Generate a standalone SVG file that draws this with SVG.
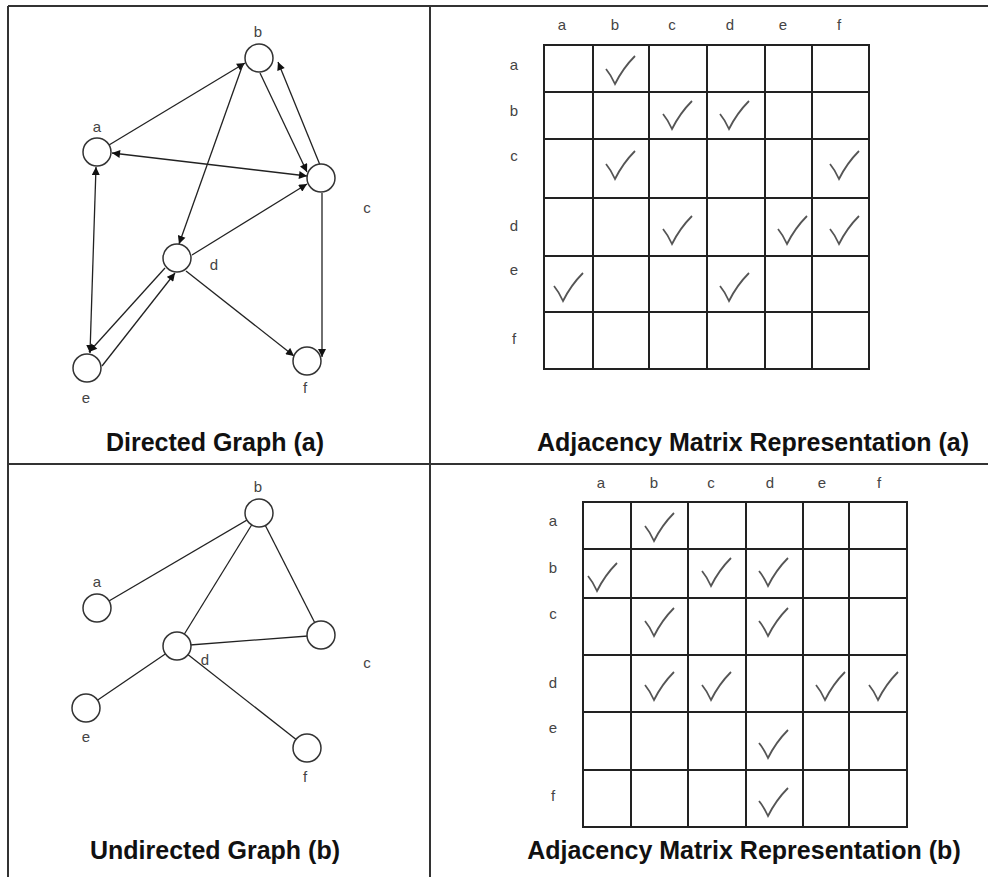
<svg xmlns="http://www.w3.org/2000/svg" xmlns:xlink="http://www.w3.org/1999/xlink" width="988" height="877" viewBox="0 0 988 877">
<style>
.frame{stroke:#333;stroke-width:2;fill:none}
.node{fill:#fff;stroke:#333;stroke-width:1.5}
.edge{stroke:#222;stroke-width:1.3;fill:none}
.lbl{font-family:"Liberation Sans",Arial,sans-serif;font-size:15px;fill:#444;text-anchor:middle}
.title{font-family:"Liberation Sans",Arial,sans-serif;font-size:25px;font-weight:bold;fill:#111;text-anchor:middle}
.grid{stroke:#222;stroke-width:2;fill:none}
.chk{stroke:#555;stroke-width:1.8;fill:none;stroke-linejoin:miter}
</style>
<defs>
<marker id="arr" viewBox="0 0 10 10" refX="10" refY="5" markerWidth="9" markerHeight="8" markerUnits="userSpaceOnUse" orient="auto-start-reverse">
<path d="M0,0 L10,5 L0,10 z" fill="#111"/>
</marker>
<path id="chk" d="M0,13 Q5,19 9,28 Q17,12 29,0"/>
</defs>
<rect width="988" height="877" fill="#fff"/>
<g id="frame">
<line class="frame" x1="8" y1="6" x2="988" y2="6"/>
<line class="frame" x1="8" y1="6" x2="8" y2="877"/>
<line class="frame" x1="430" y1="6" x2="430" y2="877"/>
<line class="frame" x1="8" y1="464" x2="988" y2="464"/>
</g>

<!-- Directed graph (a) -->
<g id="connectors-a">
<line class="edge" x1="109" y1="145" x2="245" y2="63" marker-end="url(#arr)"/>
<line class="edge" x1="307" y1="176" x2="112" y2="153" marker-start="url(#arr)" marker-end="url(#arr)"/>
<line class="edge" x1="260" y1="73" x2="307" y2="172" marker-end="url(#arr)"/>
<line class="edge" x1="320" y1="165" x2="278" y2="62" marker-end="url(#arr)"/>
<line class="edge" x1="243" y1="64" x2="179" y2="244" marker-end="url(#arr)"/>
<line class="edge" x1="192" y1="255" x2="307" y2="184" marker-end="url(#arr)"/>
<line class="edge" x1="322" y1="193" x2="322" y2="357" marker-end="url(#arr)"/>
<line class="edge" x1="186" y1="271" x2="294" y2="356" marker-end="url(#arr)"/>
<line class="edge" x1="165" y1="268" x2="89" y2="352" marker-end="url(#arr)"/>
<line class="edge" x1="102" y1="366" x2="175" y2="273" marker-end="url(#arr)"/>
<line class="edge" x1="96" y1="167" x2="90" y2="353" marker-start="url(#arr)" marker-end="url(#arr)"/>
</g>
<g id="a-node-a"><circle class="node" cx="97" cy="152" r="14"/><text class="lbl" x="97" y="132">a</text></g>
<g id="a-node-b"><circle class="node" cx="259" cy="58" r="14"/><text class="lbl" x="258" y="37">b</text></g>
<g id="a-node-c"><circle class="node" cx="321" cy="178" r="14"/><text class="lbl" x="367" y="213">c</text></g>
<g id="a-node-d"><circle class="node" cx="177" cy="258" r="14"/><text class="lbl" x="214" y="270">d</text></g>
<g id="a-node-e"><circle class="node" cx="87" cy="368" r="14"/><text class="lbl" x="86" y="403">e</text></g>
<g id="a-node-f"><circle class="node" cx="307" cy="361" r="14"/><text class="lbl" x="305" y="393">f</text></g>
<text class="title" x="215" y="451">Directed Graph (a)</text>

<!-- Matrix (a) -->
<g id="matrix-a">
<rect class="grid" x="544" y="45" width="325" height="324"/>
<path class="grid" d="M593,45V369M649,45V369M707,45V369M765,45V369M812,45V369M544,92H869M544,139H869M544,198H869M544,256H869M544,312H869"/>
<g class="lbl">
<text x="562" y="30">a</text><text x="615" y="30">b</text><text x="672" y="30">c</text><text x="730" y="30">d</text><text x="783" y="30">e</text><text x="839" y="30">f</text>
<text x="514" y="70">a</text><text x="514" y="116">b</text><text x="514" y="161">c</text><text x="514" y="231">d</text><text x="514" y="275">e</text><text x="514" y="344">f</text>
</g>
<g class="chk">
<use xlink:href="#chk" x="606" y="56"/>
<use xlink:href="#chk" x="663" y="101"/>
<use xlink:href="#chk" x="720" y="101"/>
<use xlink:href="#chk" x="606" y="151"/>
<use xlink:href="#chk" x="830" y="151"/>
<use xlink:href="#chk" x="663" y="216"/>
<use xlink:href="#chk" x="778" y="216"/>
<use xlink:href="#chk" x="830" y="216"/>
<use xlink:href="#chk" x="554" y="273"/>
<use xlink:href="#chk" x="720" y="273"/>
</g>
</g>
<text class="title" x="753" y="451">Adjacency Matrix Representation (a)</text>

<!-- Undirected graph (b) -->
<g id="connectors-b">
<line class="edge" x1="97" y1="608" x2="259" y2="513"/>
<line class="edge" x1="259" y1="513" x2="177" y2="646"/>
<line class="edge" x1="259" y1="513" x2="321" y2="635"/>
<line class="edge" x1="177" y1="646" x2="321" y2="635"/>
<line class="edge" x1="177" y1="646" x2="86" y2="708"/>
<line class="edge" x1="177" y1="646" x2="307" y2="748"/>
</g>
<g id="b-node-a"><circle class="node" cx="97" cy="608" r="14"/><text class="lbl" x="97" y="587">a</text></g>
<g id="b-node-b"><circle class="node" cx="259" cy="513" r="14"/><text class="lbl" x="258" y="492">b</text></g>
<g id="b-node-c"><circle class="node" cx="321" cy="635" r="14"/><text class="lbl" x="367" y="668">c</text></g>
<g id="b-node-d"><circle class="node" cx="177" cy="646" r="14"/><text class="lbl" x="205" y="665">d</text></g>
<g id="b-node-e"><circle class="node" cx="86" cy="708" r="14"/><text class="lbl" x="86" y="742">e</text></g>
<g id="b-node-f"><circle class="node" cx="307" cy="748" r="14"/><text class="lbl" x="305" y="782">f</text></g>
<text class="title" x="215" y="859">Undirected Graph (b)</text>

<!-- Matrix (b) -->
<g id="matrix-b">
<rect class="grid" x="583" y="502" width="324" height="325"/>
<path class="grid" d="M631,502V827M688,502V827M746,502V827M803,502V827M849,502V827M583,549H907M583,598H907M583,655H907M583,712H907M583,770H907"/>
<g class="lbl">
<text x="601" y="488">a</text><text x="654" y="488">b</text><text x="711" y="488">c</text><text x="770" y="488">d</text><text x="822" y="488">e</text><text x="879" y="488">f</text>
<text x="553" y="526">a</text><text x="553" y="573">b</text><text x="553" y="619">c</text><text x="553" y="688">d</text><text x="553" y="733">e</text><text x="553" y="801">f</text>
</g>
<g class="chk">
<use xlink:href="#chk" x="645" y="513"/>
<use xlink:href="#chk" x="588" y="563"/>
<use xlink:href="#chk" x="702" y="558"/>
<use xlink:href="#chk" x="759" y="558"/>
<use xlink:href="#chk" x="645" y="608"/>
<use xlink:href="#chk" x="759" y="608"/>
<use xlink:href="#chk" x="645" y="672"/>
<use xlink:href="#chk" x="702" y="672"/>
<use xlink:href="#chk" x="816" y="672"/>
<use xlink:href="#chk" x="869" y="672"/>
<use xlink:href="#chk" x="759" y="730"/>
<use xlink:href="#chk" x="759" y="788"/>
</g>
</g>
<text class="title" x="744" y="859">Adjacency Matrix Representation (b)</text>
</svg>
